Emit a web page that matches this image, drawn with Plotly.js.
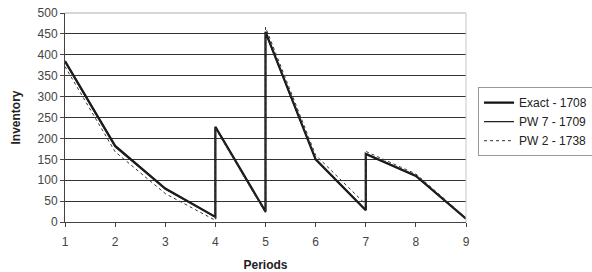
<!DOCTYPE html>
<html>
<head>
<meta charset="utf-8">
<script src="https://cdn.plot.ly/plotly-3.0.1.min.js"></script>
<style>html,body{margin:0;padding:0;background:#fff;}#chart{width:592px;height:272px;}</style>
</head>
<body>
<div id="chart"></div>
<script>
// Periods (vertical jumps at replenishment periods are repeated x values)
const periods = [1, 2, 3, 4, 4, 5, 5, 6, 7, 7, 8, 9];
const exact1708 = [385, 182, 80, 12, 228, 25, 455, 150, 28, 163, 110, 8];
const pw7_1709 = [383, 180, 79, 12, 226, 24, 453, 151, 29, 164, 111, 8];
const pw2_1738 = [372, 168, 68, 4, 224, 22, 466, 160, 42, 169, 115, 10];
const seriesNames = ["Exact - 1708", "PW 7 - 1709", "PW 2 - 1738"];
const xTicks = [1, 2, 3, 4, 5, 6, 7, 8, 9];
const yTicks = [0, 50, 100, 150, 200, 250, 300, 350, 400, 450, 500];

const font = "Liberation Sans, Arial, sans-serif";
const traces = [
  {x: periods, y: exact1708, name: seriesNames[0], mode: "lines",
   line: {color: "#111", width: 2.2}},
  {x: periods, y: pw7_1709, name: seriesNames[1], mode: "lines",
   line: {color: "#222", width: 1.3}},
  {x: periods, y: pw2_1738, name: seriesNames[2], mode: "lines",
   line: {color: "#333", width: 1, dash: "dot"}}
];

const layout = {
  width: 592, height: 272,
  margin: {l: 65, r: 126, t: 13, b: 50, autoexpand: false},
  paper_bgcolor: "#fff", plot_bgcolor: "#fff",
  font: {family: font, size: 12, color: "#333"},
  showlegend: true,
  legend: {x: 1.03, xanchor: "left", y: 0.645, yanchor: "top",
           bordercolor: "#999", borderwidth: 1, bgcolor: "#fff",
           font: {family: font, size: 12, color: "#222"}, tracegroupgap: 0},
  xaxis: {
    range: [1, 9], tickvals: xTicks, ticktext: xTicks.map(String),
    showgrid: false, zeroline: false, showline: true, linecolor: "#444", linewidth: 1,
    ticks: "outside", ticklen: 4, tickcolor: "#444", ticklabelstandoff: 5,
    tickfont: {family: font, size: 12, color: "#444"},
    title: {text: "Periods", font: {family: font, size: 12, color: "#222", weight: "bold"}, standoff: 14}
  },
  yaxis: {
    range: [0, 500], tickvals: yTicks, ticktext: yTicks.map(String),
    showgrid: true, gridcolor: "#333", gridwidth: 1,
    zeroline: false, showline: true, linecolor: "#444", linewidth: 1,
    ticks: "outside", ticklen: 4, tickcolor: "#444",
    tickfont: {family: font, size: 12, color: "#444"},
    title: {text: "Inventory", font: {family: font, size: 12, color: "#222", weight: "bold"}, standoff: 14}
  },
  shapes: [
    {type: "line", xref: "paper", yref: "paper", x0: 0, x1: 1, y0: 1, y1: 1,
     line: {color: "#c8c8c8", width: 1.5}},
    {type: "line", xref: "paper", yref: "paper", x0: 1, x1: 1, y0: 0, y1: 1,
     line: {color: "#c8c8c8", width: 1}}
  ]
};

Plotly.newPlot("chart", traces, layout, {displayModeBar: false, staticPlot: true});
</script>
</body>
</html>
